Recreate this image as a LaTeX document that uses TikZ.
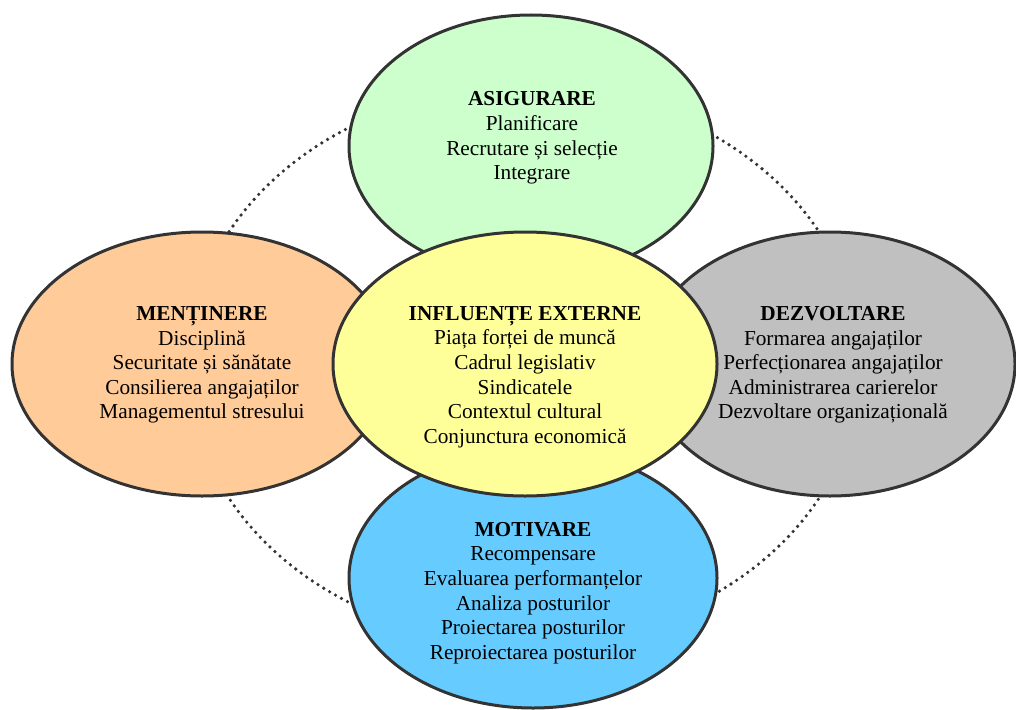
\documentclass[tikz,border=0pt]{standalone}
\usepackage{fontspec}
\setmainfont{Liberation Serif}
\usetikzlibrary{shapes.geometric}
\definecolor{edgecol}{HTML}{333333}
\definecolor{cgreen}{HTML}{CCFFCC}
\definecolor{corange}{HTML}{FFCC99}
\definecolor{cyellow}{HTML}{FFFF99}
\definecolor{cgray}{HTML}{C0C0C0}
\definecolor{cblue}{HTML}{66CCFF}
\tikzset{
  blob/.style={ellipse, draw=edgecol, line width=3pt, inner sep=0pt, outer sep=0pt},
  dotring/.style={draw=edgecol, line width=3.6pt, line cap=round, dash pattern=on 0pt off 6.8pt},
  txt/.style={align=center, inner sep=0pt, font=\fontsize{21.3}{24.6}\selectfont, text=black}
}
\begin{document}
\begin{tikzpicture}[x=1pt,y=-1pt]
\useasboundingbox (0,0) rectangle (1016,709);
\draw[dotring] (524,365) ellipse [x radius=336, y radius=278];
\node[blob, fill=cgreen, minimum width=364, minimum height=262] (asig) at (531,146) {};
\node[blob, fill=corange, minimum width=380, minimum height=264] (ment) at (202,364) {};
\node[blob, fill=cgray, minimum width=370, minimum height=264] (dezv) at (830,364) {};
\node[blob, fill=cblue, minimum width=368, minimum height=260] (motiv) at (533,578) {};
\node[blob, fill=cyellow, minimum width=384, minimum height=264] (infl) at (525,364) {};
\node[txt] (tasig) at (532,138) {\textbf{ASIGURARE}\\Planificare\\Recrutare și selecție\\Integrare};
\node[txt] (tment) at (202,365) {\textbf{MENȚINERE}\\Disciplină\\Securitate și sănătate\\Consilierea angajaților\\Managementul stresului};
\node[txt] (tdezv) at (833,365) {\textbf{DEZVOLTARE}\\Formarea angajaților\\Perfecționarea angajaților\\Administrarea carierelor\\Dezvoltare organizațională};
\node[txt] (tinfl) at (525,377) {\textbf{INFLUENȚE EXTERNE}\\Piața forței de muncă\\Cadrul legislativ\\Sindicatele\\Contextul cultural\\Conjunctura economică};
\node[txt] (tmotiv) at (533,593) {\textbf{MOTIVARE}\\Recompensare\\Evaluarea performanțelor\\Analiza posturilor\\Proiectarea posturilor\\Reproiectarea posturilor};
\end{tikzpicture}
\end{document}
